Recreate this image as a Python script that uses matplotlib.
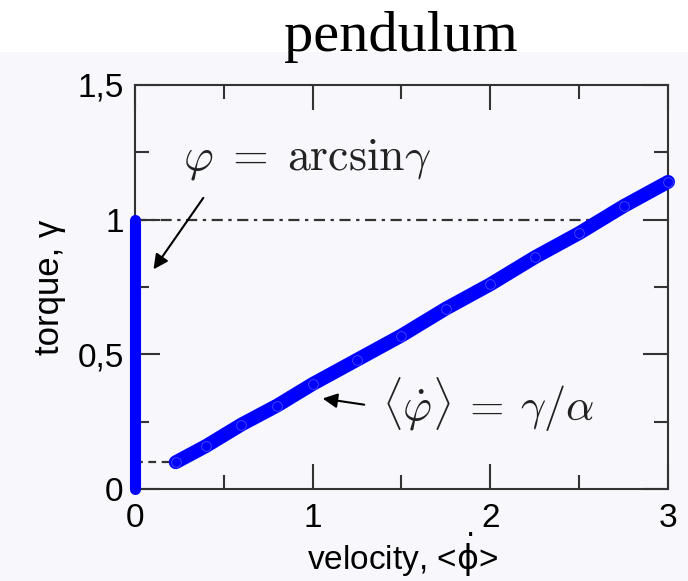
import matplotlib
matplotlib.use("Agg")
import matplotlib.pyplot as plt
from matplotlib.patches import Rectangle

plt.rcParams['mathtext.fontset'] = 'cm'
plt.rcParams['font.family'] = ['Liberation Sans', 'DejaVu Sans']

# locked branch: phase stays at arcsin(gamma), mean velocity zero
locked_v = [0.0, 0.0]
locked_t = [0.0, 1.0]

# running branch: mean velocity vs torque
run_v = [0.23, 0.40, 0.60, 0.80, 1.00, 1.25, 1.50, 1.75, 2.00, 2.25, 2.50, 2.75, 3.00]
run_t = [0.10, 0.16, 0.24, 0.31, 0.39, 0.48, 0.57, 0.67, 0.76, 0.86, 0.95, 1.05, 1.14]

xticks = [0, 1, 2, 3]
yticks = [0, 0.5, 1, 1.5]
yticklabels = ['0', '0,5', '1', '1,5']

bg = '#f8f8fc'
fig = plt.figure(figsize=(6.88, 5.81), dpi=100, facecolor=bg)
fig.patches.append(Rectangle((0, 0.9105), 1, 0.0895, transform=fig.transFigure,
                             facecolor='white', edgecolor='none', zorder=-1))
fig.text(0.582, 0.912, 'pendulum', family='Liberation Serif', fontsize=42,
         ha='center', va='baseline')

ax = fig.add_axes([0.196, 0.158, 0.775, 0.696])
ax.set_facecolor(bg)

# guide lines
ax.plot([0, 2.6], [1, 1], color='#333333', lw=1.6, dashes=(5, 2.5, 1.5, 2.5), zorder=1)
ax.plot([0, 0.23], [0.10, 0.10], color='#333333', lw=1.6, dashes=(3.5, 2.5), zorder=1)

ax.plot(locked_v, locked_t, color='#0000ff', lw=8, solid_capstyle='round',
        clip_on=False, zorder=3)
ax.plot(run_v, run_t, color='#0000ff', lw=10, solid_capstyle='round',
        clip_on=False, zorder=3)
ax.plot(run_v, run_t, 'o', mfc='none', mec='#4a4aff', ms=7, mew=0.6,
        clip_on=False, zorder=4)

ax.set_xlim(0, 3)
ax.set_ylim(0, 1.5)
ax.set_xticks(xticks)
ax.set_xticklabels([str(v) for v in xticks])
ax.set_yticks(yticks)
ax.set_yticklabels(yticklabels)
ax.set_xticks([0.5, 1.5, 2.5], minor=True)
ax.set_yticks([0.25, 0.75, 1.25], minor=True)
ax.tick_params(which='both', direction='in', top=True, right=True,
               color='#333333', width=1.5, labelsize=24)
ax.tick_params(which='major', length=18)
ax.tick_params(which='minor', length=10)
ax.tick_params(axis='x', pad=10)
ax.tick_params(axis='y', pad=8)
for s in ax.spines.values():
    s.set_color('#333333')
    s.set_linewidth(1.5)

ax.set_xlabel(r'velocity, <$\dot{\mathrm{\phi}}$>', fontsize=24, va='baseline',
              math_fontfamily='dejavusans')
ax.xaxis.set_label_coords(0.503, -0.2)
ax.set_ylabel('torque, γ', fontsize=25, labelpad=8)

arrow = dict(arrowstyle='-|>', color='black', lw=1.5, mutation_scale=22)
ax.annotate('', xy=(0.096, 0.807), xytext=(0.394, 1.089), arrowprops=arrow)
ax.annotate('', xy=(1.041, 0.338), xytext=(1.306, 0.312), arrowprops=arrow)
ax.text(0.27, 1.223, r'$\varphi\;=\;\mathrm{arcsin}\gamma$', fontsize=33,
        va='center', ha='left', color='#222222')
ax.text(1.39, 0.312, r'$\langle\dot{\varphi}\rangle\:=\:\gamma/\alpha$', fontsize=32,
        va='center', ha='left', color='#222222')

fig.savefig('out.png', dpi=100, facecolor=fig.get_facecolor())
